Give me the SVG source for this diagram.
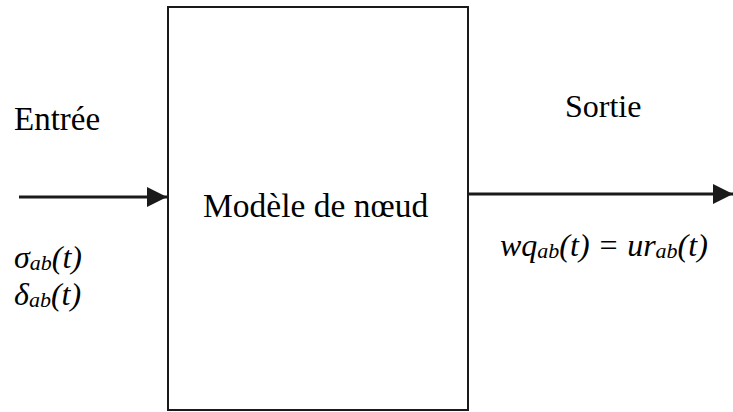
<svg xmlns="http://www.w3.org/2000/svg" width="733" height="412" viewBox="0 0 733 412" font-family="Times New Roman, Liberation Serif, serif">
<defs>
<marker id="ah" markerUnits="userSpaceOnUse" markerWidth="22" markerHeight="22" refX="20" refY="10" orient="auto" viewBox="0 0 22 20">
<path d="M0,0 L20,10 L0,20 Z" fill="#1a1a1a"/>
</marker>
</defs>
<rect width="733" height="412" fill="#fff"/>
<g id="node-model">
<rect x="168" y="7" width="300" height="403" fill="#fff" stroke="#1a1a1a" stroke-width="2"/>
<text x="203" y="217" font-size="33.5" font-family="Times New Roman">Modèle de nœud</text>
</g>
<g id="connectors" stroke="#1a1a1a" stroke-width="3" fill="none">
<line x1="19" y1="197" x2="167" y2="197" marker-end="url(#ah)"/>
<line x1="469" y1="194" x2="733" y2="194" marker-end="url(#ah)"/>
</g>
<g id="label-entree">
<text x="14" y="130" font-size="33" font-family="Times New Roman">Entrée</text>
</g>
<g id="label-sortie">
<text x="565" y="117" font-size="32" font-family="Times New Roman">Sortie</text>
</g>
<g id="label-inputs">
<text x="14" y="268" font-size="32" font-family="Times New Roman" font-style="italic">σ<tspan font-size="22" dy="2">ab</tspan><tspan dy="-2">(t)</tspan></text>
<text x="14" y="305" font-size="32" font-family="Times New Roman" font-style="italic">δ<tspan font-size="22" dy="2">ab</tspan><tspan dy="-2">(t)</tspan></text>
</g>
<g id="label-output">
<text x="500" y="256" font-size="32" font-family="Times New Roman" font-style="italic">wq<tspan font-size="22" dy="2">ab</tspan><tspan dy="-2">(t) = ur</tspan><tspan font-size="22" dy="2">ab</tspan><tspan dy="-2">(t)</tspan></text>
</g>
</svg>
